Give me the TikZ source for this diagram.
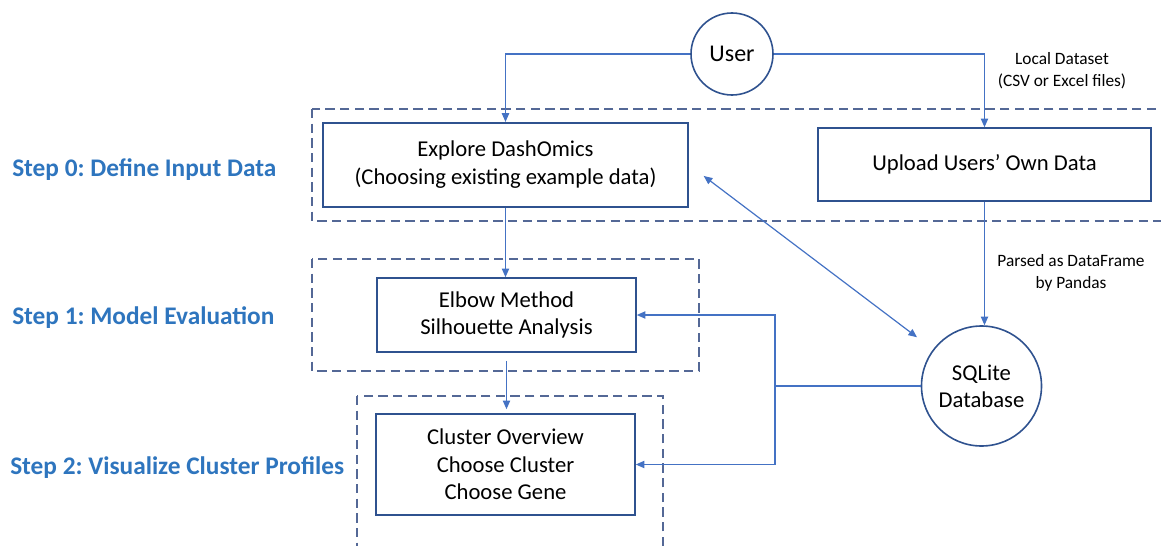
\documentclass[tikz,border=0pt]{standalone}
\usepackage{fontspec}
\setmainfont{Carlito}
\usetikzlibrary{arrows.meta}
\definecolor{lineblue}{RGB}{68,114,196}
\definecolor{boxblue}{RGB}{47,82,143}
\definecolor{dashblue}{RGB}{84,104,150}
\definecolor{stepblue}{RGB}{46,117,190}
\frenchspacing
\begin{document}
\begin{tikzpicture}[x=0.75pt,y=-0.75pt,
  every node/.style={font=\fontsize{17}{20.5}\selectfont},
  bx/.style={draw=boxblue,line width=1.2pt,align=center,inner sep=0pt},
  circ/.style={draw=boxblue,line width=1.2pt,circle,align=center,inner sep=0pt},
  grp/.style={draw=dashblue,line width=1.1pt,dash pattern=on 7pt off 4pt},
  flow/.style={-{Triangle[length=6.5pt,width=5.5pt]},line width=0.9pt,lineblue},
  dflow/.style={{Triangle[length=6.5pt,width=5.5pt]}-{Triangle[length=6.5pt,width=5.5pt]},line width=0.9pt,lineblue},
  steplbl/.style={anchor=west,inner sep=0pt,text=stepblue,font=\fontsize{19}{23}\selectfont\bfseries},
  note/.style={align=center,font=\fontsize{13}{16.5}\selectfont}]
\useasboundingbox (0,0) rectangle (1161,546);
% dashed step groups
\draw[grp] (312,109) rectangle (1172,221);
\draw[grp] (312,259) rectangle (699,371);
\draw[grp] (357,396) rectangle (663,560);
% step labels
\node[steplbl] (step0) at (12,170) {Step 0: Define Input Data};
\node[steplbl] (step1) at (12,318) {Step 1: Model Evaluation};
\node[steplbl] (step2) at (10,468) {Step 2: Visualize Cluster Profiles};
% nodes
\node[circ,minimum size=61.5pt,font=\fontsize{18}{22}\selectfont] (user) at (732,54) {User};
\node[bx,minimum width=273.75pt,minimum height=63pt] (explore) at (505.5,164.7) {Explore DashOmics\\(Choosing existing example data)};
\node[bx,minimum width=249.75pt,minimum height=54.75pt] (upload) at (984.5,164.5) {Upload Users’ Own Data};
\node[bx,minimum width=194.25pt,minimum height=55.5pt] (elbow) at (506.5,315) {Elbow Method\\Silhouette Analysis};
\node[bx,minimum width=194.25pt,minimum height=75.75pt] (cluster) at (505.5,464.5) {Cluster Overview\\Choose Cluster\\Choose Gene};
\node[circ,minimum size=90pt] (sqlite) at (981.5,386) {SQLite\\Database};
% notes
\node[note] (localds) at (1062,71) {Local Dataset\\(CSV or Excel files)};
\node[note] (parsed) at (1071,273) {Parsed as DataFrame\\by Pandas};
% connectors
\draw[flow] (user.west) -| (explore.north);
\draw[flow] (user.east) -| (upload.north);
\draw[flow] (explore.south) -- (explore.south |- elbow.north);
\draw[flow,shorten <=6pt,shorten >=3pt] (elbow.south) -- (elbow.south |- cluster.north);
\draw[flow] (upload.south) -- (upload.south |- sqlite.north);
\draw[dflow,shorten <=14pt,shorten >=15pt] (explore.east) -- (sqlite);
\coordinate (junc) at (775,386);
\draw[lineblue,line width=1.4pt] (sqlite.west) -- (junc);
\draw[flow] (junc) |- (elbow.east);
\draw[flow] (junc) |- (cluster.east);
\end{tikzpicture}
\end{document}
